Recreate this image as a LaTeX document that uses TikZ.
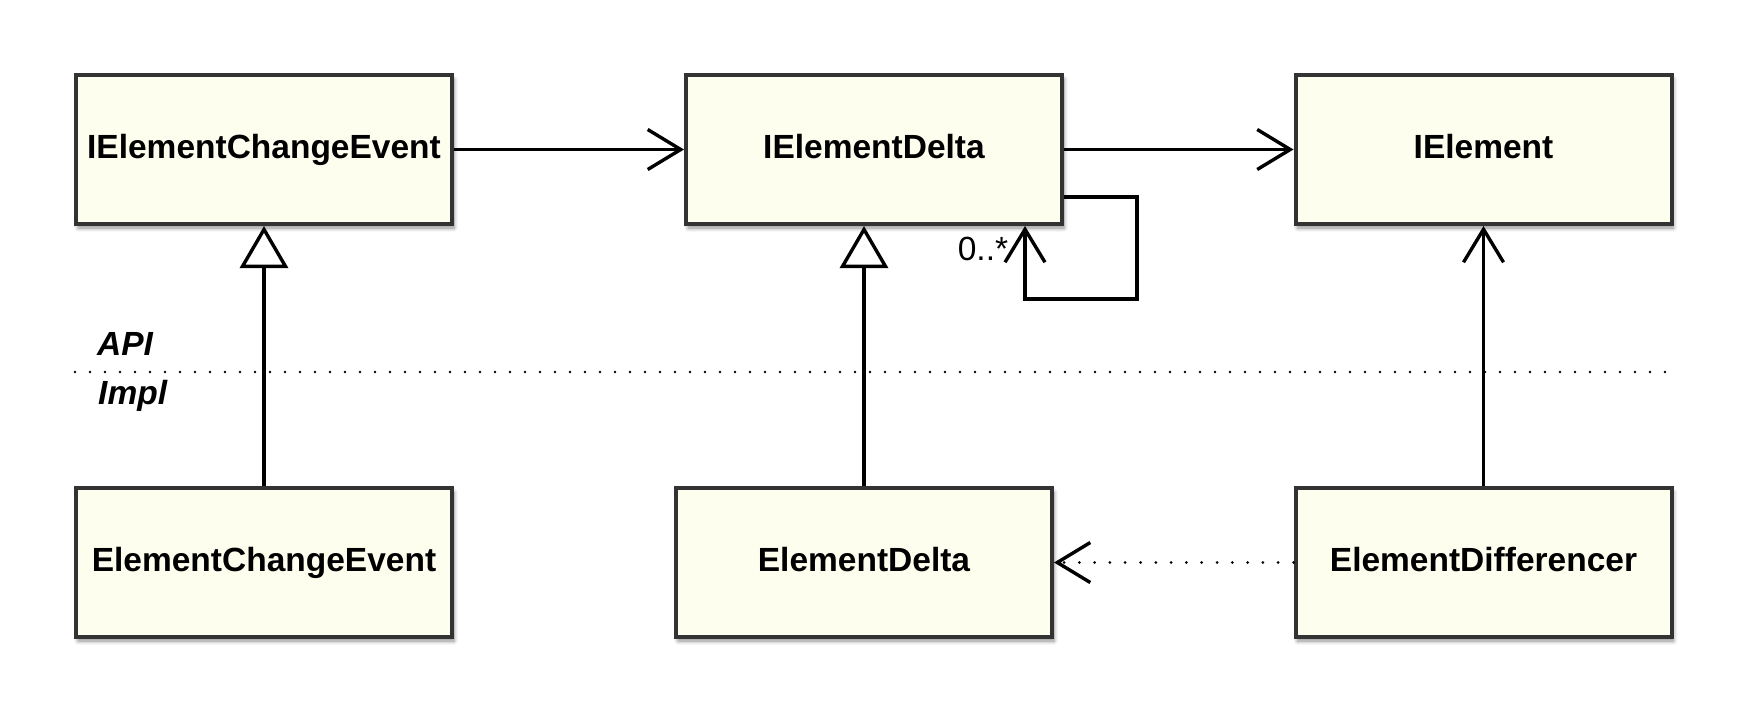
\documentclass[tikz,border=0pt]{standalone}
\usepackage{fontspec}
\setmainfont{Liberation Sans}
\usetikzlibrary{arrows.meta,shadows.blur}
\definecolor{boxfill}{RGB}{254,254,238}
\definecolor{boxline}{RGB}{51,51,51}
\begin{document}
\begin{tikzpicture}[x=1pt,y=-1pt,
  cls/.style={draw=boxline, fill=boxfill, line width=4pt, minimum width=376pt,
    minimum height=149pt, inner sep=0pt, text height=24pt, text depth=7pt,
    font=\fontsize{33.5}{40}\selectfont\bfseries,
    blur shadow={shadow xshift=2pt, shadow yshift=-4pt, shadow blur radius=4pt,
      shadow blur steps=6, shadow opacity=45}},
  assoc/.style={line width=3.4pt, -{Straight Barb[length=33pt,width=40pt]}},
  gen/.style={line width=3.4pt, -{Triangle[open,length=42pt,width=48pt,fill=white]}},
  dotline/.style={line width=3pt, line cap=round, dash pattern=on 0pt off 15.3pt},
  sepline/.style={line width=2.8pt, line cap=round, dash pattern=on 0pt off 15pt},
  lbl/.style={font=\fontsize{33.5}{40}\selectfont, inner sep=0pt},
  tag/.style={font=\fontsize{33.5}{40}\selectfont\bfseries\itshape, inner sep=0pt, anchor=base west}]
\useasboundingbox (0,0) rectangle (1764,713);

% API / Impl separator
\coordinate (sepL) at (75,372);
\coordinate (sepR) at (1676,372);
\draw[sepline] (sepL) -- (sepR);
\node[tag] (api) at (97,355) {API};
\node[tag] (impl) at (98,404) {Impl};

% classes
\node[cls] (ice) at (264,149.5) {IElementChangeEvent};
\node[cls] (ied) at (874,149.5) {IElementDelta};
\node[cls] (ie)  at (1483.5,149.5) {IElement};
\node[cls] (ece) at (264,562.5) {ElementChangeEvent};
\node[cls] (ed)  at (864,562.5) {ElementDelta};
\node[cls] (edf) at (1483.5,562.5) {ElementDifferencer};

% associations
\draw[assoc] (ice.east) -- (ied.west);
\draw[assoc] (ied.east) -- (ie.west);
\draw[assoc] (edf.north) -- (ie.south);
\draw[dotline, -{Straight Barb[length=33pt,width=40pt,line width=3.4pt]}] (edf.west) -- (ed.east);

% self loop
\coordinate (loopA) at (1137,197);
\coordinate (loopB) at (1025,299);
\draw[assoc] (ied.east |- loopA) -- (loopA) |- (loopB) -- (ied.south -| loopB);
\node[lbl] (mult) at (983,249) {0..*};

% generalizations
\draw[gen] (ece.north) -- (ice.south);
\draw[gen] (ed.north) -- (ed.north |- ied.south);
\end{tikzpicture}
\end{document}
